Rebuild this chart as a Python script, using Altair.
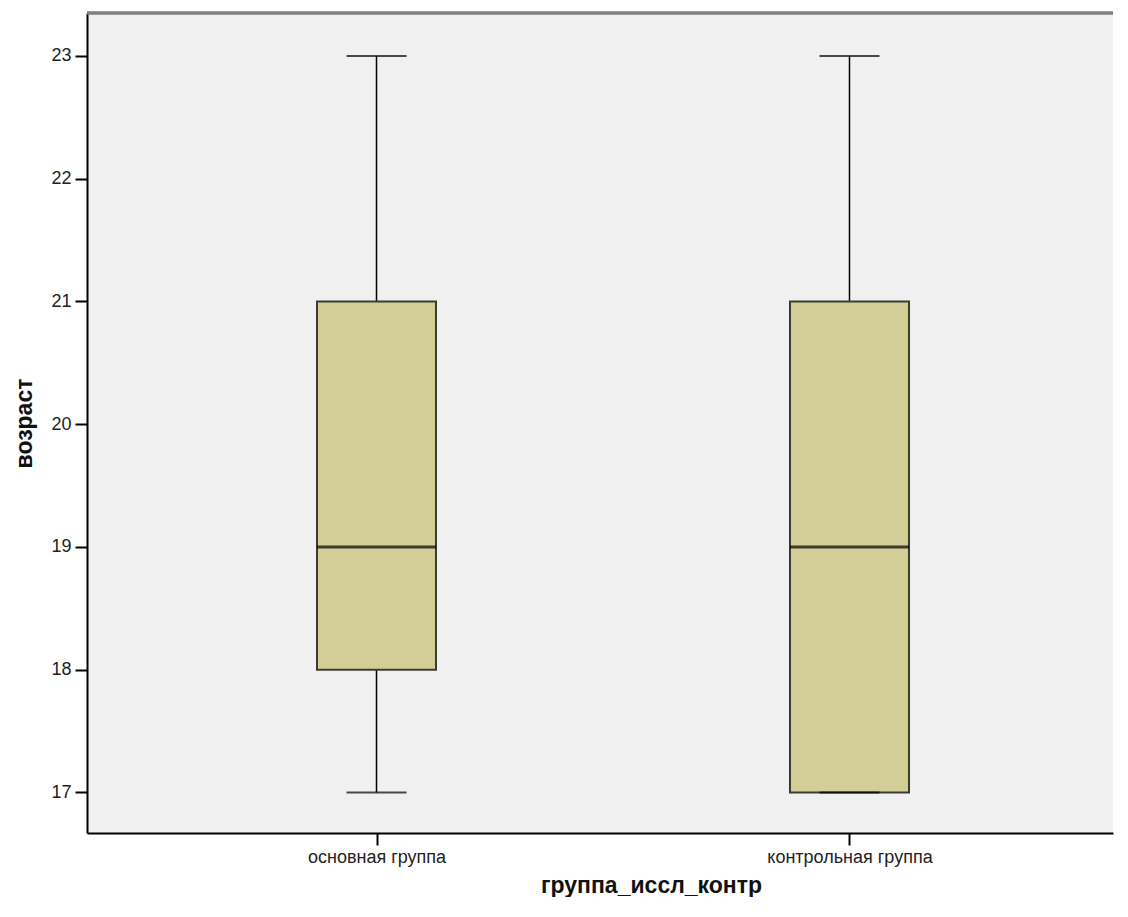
import altair as alt
import pandas as pd

groups = ["основная группа", "контрольная группа"]
whisker_low = [17, 17]
q1 = [18, 17]
median = [19, 19]
q3 = [21, 21]
whisker_high = [23, 23]

df = pd.DataFrame({
    "group": groups,
    "lo": whisker_low,
    "q1": q1,
    "med": median,
    "q3": q3,
    "hi": whisker_high,
})

FONT = "Liberation Sans"
W = 1026
H = 820

xscale = alt.Scale(type="point", domain=groups, padding=0.5846, align=0.5235)
yscale = alt.Scale(domain=[16.67, 23.35], nice=False, zero=False)

x_enc = alt.X(
    "group:N",
    scale=xscale,
    sort=groups,
    axis=alt.Axis(
        title="группа_иссл_контр",
        labelAngle=0,
        labelFont=FONT,
        labelFontSize=18,
        labelColor="#222222",
        labelPadding=3,
        tickSize=12,
        tickWidth=2,
        tickColor="#000000",
        domainColor="#000000",
        domainWidth=2,
        titleFont=FONT,
        titleFontSize=23,
        titleFontWeight="bold",
        titleColor="#111111",
        titlePadding=8,
        titleX=564,
    ),
)

y_axis = alt.Axis(
    title="возраст",
    values=[17, 18, 19, 20, 21, 22, 23],
    format="d",
    grid=False,
    labelFont=FONT,
    labelFontSize=18,
    labelColor="#222222",
    labelPadding=4,
    tickSize=12,
    tickWidth=2,
    tickColor="#000000",
    domainColor="#000000",
    domainWidth=2,
    titleFont=FONT,
    titleFontSize=23,
    titleFontWeight="bold",
    titleColor="#111111",
    titlePadding=14,
)

base = alt.Chart(df)

whisker = base.mark_rule(color="#000000", strokeWidth=1.5).encode(
    x=x_enc,
    y=alt.Y("lo:Q", scale=yscale, axis=y_axis),
    y2="hi:Q",
)

caps_lo = base.mark_tick(color="#000000", size=60, thickness=2).encode(
    x=alt.X("group:N", scale=xscale, sort=groups), y=alt.Y("lo:Q", scale=yscale)
)
caps_hi = base.mark_tick(color="#000000", size=60, thickness=2).encode(
    x=alt.X("group:N", scale=xscale, sort=groups), y=alt.Y("hi:Q", scale=yscale)
)

box = base.mark_bar(
    size=119, color="#d3ce98", stroke="#3c3c2c", strokeWidth=2
).encode(
    x=alt.X("group:N", scale=xscale, sort=groups),
    y=alt.Y("q1:Q", scale=yscale),
    y2="q3:Q",
)

med = base.mark_tick(color="#000000", size=119, thickness=3).encode(
    x=alt.X("group:N", scale=xscale, sort=groups), y=alt.Y("med:Q", scale=yscale)
)

top_border = alt.Chart(df).mark_rule(color="#7f7f7f", strokeWidth=3).encode(
    x=alt.value(0), x2=alt.value(W), y=alt.value(0)
)

chart = (
    alt.layer(whisker, box, caps_lo, caps_hi, med, top_border)
    .properties(
        width=W,
        height=H,
        background="#ffffff",
        padding={"left": 5, "top": 3, "right": 0, "bottom": 0},
    )
    .configure_view(fill="#f0f0f0", strokeWidth=0)
)

chart.save("out.html", embed_options={"renderer": "svg", "actions": False})
